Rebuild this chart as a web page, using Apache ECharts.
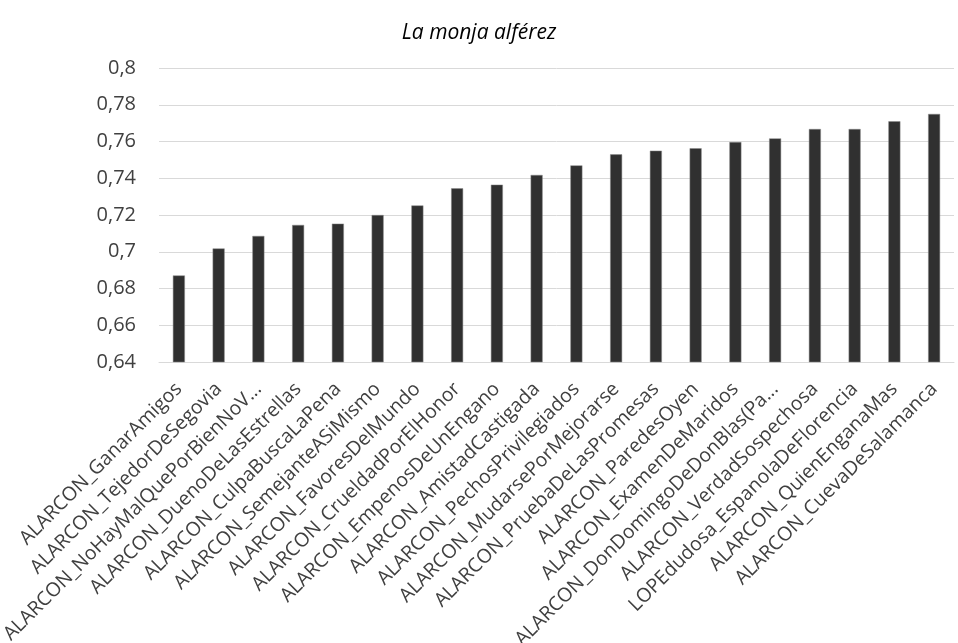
<!DOCTYPE html>
<html><head><meta charset="utf-8">
<script src="https://cdn.jsdelivr.net/npm/echarts@6/dist/echarts.min.js"></script>
<style>html,body{margin:0;padding:0;background:#fff}#c{width:958px;height:643px}</style>
</head><body><div id="c"></div>
<script>
const titleText = 'La monja alférez';
const categories = [
 'ALARCON_GanarAmigos','ALARCON_TejedorDeSegovia','ALARCON_NoHayMalQuePorBienNoV...',
 'ALARCON_DuenoDeLasEstrellas','ALARCON_CulpaBuscaLaPena','ALARCON_SemejanteASiMismo',
 'ALARCON_FavoresDelMundo','ALARCON_CrueldadPorElHonor','ALARCON_EmpenosDeUnEngano',
 'ALARCON_AmistadCastigada','ALARCON_PechosPrivilegiados','ALARCON_MudarsePorMejorarse',
 'ALARCON_PruebaDeLasPromesas','ALARCON_ParedesOyen','ALARCON_ExamenDeMaridos',
 'ALARCON_DonDomingoDeDonBlas(Pa...','ALARCON_VerdadSospechosa','LOPEdudosa_EspanolaDeFlorencia',
 'ALARCON_QuienEnganaMas','ALARCON_CuevaDeSalamanca'
];
const values = [0.6871,0.7018,0.7086,0.7146,0.7153,0.7200,0.7252,0.7345,0.7365,0.7418,
 0.7470,0.7530,0.7550,0.7563,0.7597,0.7617,0.7668,0.7668,0.7710,0.7750];
const yMin = 0.64, yMax = 0.8, yStep = 0.02;

const chart = echarts.init(document.getElementById('c'));
chart.setOption({
  animation:false,
  title:{text:titleText,left:'center',top:18,textStyle:{fontFamily:'Open Sans',fontStyle:'italic',fontWeight:'normal',fontSize:21,color:'#000'}},
  grid:{left:159,right:4,top:68,bottom:281,containLabel:false,outerBoundsMode:'none'},
  xAxis:{type:'category',data:categories,
    axisLine:{show:true,lineStyle:{color:'#d9d9d9',width:1}},
    axisTick:{show:false},
    axisLabel:{interval:0,rotate:45,margin:24,color:'#404040',fontFamily:'Open Sans',fontSize:19.5}},
  yAxis:{type:'value',min:yMin,max:yMax,interval:yStep,
    axisLine:{show:false},axisTick:{show:false},
    splitLine:{lineStyle:{color:'#d9d9d9',width:1}},
    axisLabel:{margin:23,color:'#404040',fontFamily:'Open Sans',fontSize:20,
      formatter:v=>String(Math.round(v*100)/100).replace('.',',')}},
  series:[{type:'bar',data:values,barWidth:12,itemStyle:{color:'#303030',borderColor:'#8a8a8a',borderWidth:0.5}}]
});
</script></body></html>
